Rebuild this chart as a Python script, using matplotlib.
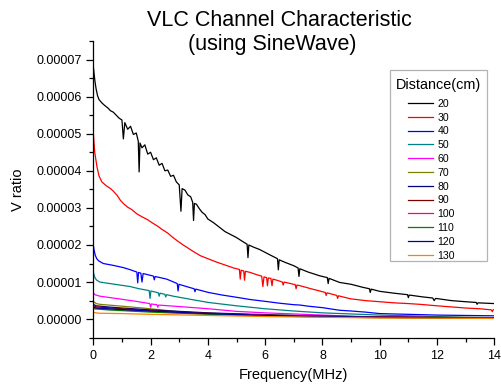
import matplotlib
matplotlib.use("Agg")
import matplotlib.pyplot as plt
from matplotlib.ticker import MultipleLocator, FormatStrFormatter
from matplotlib.offsetbox import HPacker, DrawingArea

plt.rcParams['font.family'] = ['Liberation Sans', 'DejaVu Sans']

# ---- data (values in units of 1e-5 V ratio) ----
labels = ["20", "30", "40", "50", "60", "70", "80", "90", "100", "110", "120", "130"]
colors = ["#000000", "#ff0000", "#0000ff", "#008080", "#ff00ff", "#808000",
          "#000080", "#800000", "#ff0080", "#008000", "#0000a0", "#ff8000"]

d20_f = [0, 0.03, 0.06, 0.1, 0.15, 0.2, 0.3, 0.4, 0.5, 0.6, 0.7, 0.8, 0.9, 1.0, 1.05, 1.1, 1.2, 1.3,
         1.4, 1.5, 1.57, 1.6, 1.63, 1.7, 1.8, 1.9, 2.0, 2.1, 2.2, 2.3, 2.4, 2.5, 2.6, 2.7, 2.8, 2.9,
         3.0, 3.06, 3.1, 3.2, 3.3, 3.4, 3.47, 3.5, 3.53, 3.6, 3.7, 3.8, 3.9, 4.0, 4.2, 4.4, 4.6, 4.8,
         5.0, 5.2, 5.37, 5.4, 5.43, 5.6, 5.8, 6.0, 6.2, 6.43, 6.46, 6.49, 6.7, 7.0, 7.15, 7.18, 7.21,
         7.5, 7.9, 8.17, 8.2, 8.23, 8.6, 9.0, 9.4, 9.64, 9.67, 9.7, 10.0, 10.5, 10.97, 11.0, 11.03,
         11.5, 11.85, 11.9, 11.95, 12.5, 13.0, 13.37, 13.4, 13.43, 14.0]
d20_v = [6.82, 6.6, 6.4, 6.2, 6.02, 5.92, 5.83, 5.76, 5.7, 5.62, 5.58, 5.5, 5.42, 5.37, 4.86, 5.3, 5.12, 5.2,
         4.98, 5.02, 4.8, 3.97, 4.75, 4.62, 4.7, 4.45, 4.5, 4.3, 4.35, 4.15, 4.2, 4.0, 4.02, 3.85, 3.88, 3.7,
         3.62, 2.91, 3.52, 3.48, 3.35, 3.3, 3.15, 2.66, 3.12, 3.1, 2.98, 2.88, 2.82, 2.7, 2.6, 2.48, 2.36, 2.28,
         2.2, 2.1, 2.02, 1.66, 2.0, 1.94, 1.88, 1.8, 1.72, 1.63, 1.33, 1.6, 1.53, 1.44, 1.38, 1.15, 1.36,
         1.27, 1.17, 1.12, 0.96, 1.1, 0.99, 0.94, 0.86, 0.82, 0.72, 0.81, 0.75, 0.7, 0.66, 0.58, 0.65,
         0.6, 0.57, 0.5, 0.56, 0.5, 0.47, 0.45, 0.4, 0.44, 0.42]

d30_f = [0, 0.02, 0.05, 0.09, 0.13, 0.2, 0.3, 0.45, 0.6, 0.7, 0.83, 0.95, 1.06, 1.2, 1.35, 1.52, 1.7, 1.9,
         2.05, 2.22, 2.4, 2.6, 2.75, 2.92, 3.1, 3.3, 3.5, 3.74, 4.0, 4.3, 4.6, 4.9, 5.1, 5.13, 5.16, 5.25,
         5.28, 5.31, 5.48, 5.7, 5.88, 5.92, 5.96, 6.05, 6.08, 6.11, 6.2, 6.24, 6.27, 6.45, 6.6, 6.63, 6.66,
         7.05, 7.08, 7.11, 7.23, 7.6, 8.1, 8.13, 8.16, 8.5, 8.53, 8.56, 8.97, 9.5, 10.0, 10.5, 11.0, 11.4,
         12.0, 12.5, 13.0, 13.5, 13.9, 13.93, 13.96, 14.0]
d30_v = [5.05, 4.8, 4.5, 4.3, 4.1, 3.86, 3.7, 3.6, 3.52, 3.45, 3.34, 3.2, 3.11, 3.02, 2.95, 2.84, 2.76, 2.68,
         2.6, 2.52, 2.42, 2.32, 2.22, 2.12, 2.02, 1.92, 1.82, 1.71, 1.63, 1.54, 1.46, 1.38, 1.34, 1.08, 1.32, 1.3,
         1.05, 1.29, 1.26, 1.2, 1.16, 0.88, 1.14, 1.12, 0.9, 1.11, 1.1, 0.9, 1.08, 1.04, 1.0, 0.92, 1.0,
         0.93, 0.82, 0.92, 0.9, 0.82, 0.72, 0.64, 0.71, 0.64, 0.56, 0.63, 0.55, 0.5, 0.47, 0.44, 0.42, 0.4,
         0.36, 0.33, 0.3, 0.28, 0.25, 0.2, 0.25, 0.26]

d40_f = [0, 0.03, 0.07, 0.12, 0.19, 0.35, 0.7, 1.05, 1.3, 1.52, 1.55, 1.58, 1.66, 1.7, 1.74, 2.0, 2.1, 2.13,
         2.16, 2.56, 2.93, 2.96, 2.99, 3.38, 3.52, 3.55, 3.58, 4.02, 4.5, 5.0, 5.47, 6.0, 6.5, 7.0, 7.22, 7.5,
         8.0, 8.6, 9.0, 9.5, 10.0, 11.0, 12.0, 13.0, 14.0]
d40_v = [2.0, 1.85, 1.72, 1.63, 1.57, 1.5, 1.45, 1.39, 1.33, 1.27, 0.98, 1.26, 1.24, 1.0, 1.23, 1.18, 1.16, 1.06,
         1.15, 1.08, 0.96, 0.76, 0.94, 0.85, 0.82, 0.74, 0.81, 0.72, 0.65, 0.59, 0.53, 0.48, 0.43, 0.39, 0.38, 0.35,
         0.31, 0.24, 0.22, 0.19, 0.15, 0.13, 0.11, 0.1, 0.09]

d50_f = [0, 0.03, 0.07, 0.12, 0.23, 0.58, 1.28, 1.6, 1.95, 1.98, 2.01, 2.27, 2.3, 2.33, 2.5, 2.53, 2.56,
         2.79, 3.5, 4.02, 5.0, 6.0, 6.5, 7.0, 8.0, 9.0, 10.0, 11.0, 12.0, 13.0, 14.0]
d50_v = [1.28, 1.18, 1.1, 1.05, 1.0, 0.96, 0.88, 0.82, 0.77, 0.56, 0.76, 0.71, 0.62, 0.7, 0.67, 0.6, 0.66,
         0.62, 0.52, 0.45, 0.36, 0.28, 0.25, 0.22, 0.17, 0.14, 0.11, 0.09, 0.07, 0.05, 0.04]

d60_f = [0, 0.05, 0.23, 1.05, 1.5, 1.97, 2.0, 2.03, 2.1, 2.22, 2.25, 2.28, 3.0, 4.02, 5.0, 6.0, 7.0, 8.0,
         9.0, 10.0, 11.0, 12.0, 13.0, 14.0]
d60_v = [0.72, 0.66, 0.62, 0.53, 0.48, 0.42, 0.32, 0.41, 0.4, 0.39, 0.32, 0.38, 0.34, 0.28, 0.21, 0.17, 0.14, 0.11,
         0.08, 0.06, 0.05, 0.04, 0.03, 0.03]

d70_f = [0, 0.1, 0.23, 1.0, 1.86, 3.0, 4.2, 5.0, 6.0, 8.0, 10.0, 12.0, 14.0]
d70_v = [0.48, 0.42, 0.4, 0.35, 0.29, 0.2, 0.14, 0.12, 0.1, 0.07, 0.05, 0.04, 0.03]

d80_f = [0, 0.1, 0.5, 1, 2, 3, 4, 6, 8, 10, 12, 14]
d80_v = [0.40, 0.36, 0.33, 0.30, 0.25, 0.21, 0.17, 0.12, 0.08, 0.06, 0.04, 0.03]

d90_f = [0, 0.1, 0.5, 1, 2, 3, 4, 6, 8, 10, 12, 14]
d90_v = [0.36, 0.33, 0.31, 0.28, 0.23, 0.19, 0.16, 0.11, 0.08, 0.06, 0.05, 0.04]

d100_f = [0, 0.5, 1, 2, 4, 6, 8, 10, 14]
d100_v = [0.30, 0.27, 0.25, 0.21, 0.14, 0.10, 0.07, 0.05, 0.03]

d110_f = [0, 0.5, 1, 2, 4, 6, 8, 10, 14]
d110_v = [0.28, 0.25, 0.23, 0.19, 0.13, 0.09, 0.06, 0.04, 0.02]

d120_f = [0, 0.1, 1, 2, 4, 6, 8, 10, 14]
d120_v = [0.33, 0.30, 0.26, 0.22, 0.15, 0.10, 0.07, 0.05, 0.03]

d130_f = [0, 0.2, 1, 2, 4, 6, 8, 10, 14]
d130_v = [0.18, 0.16, 0.15, 0.13, 0.10, 0.07, 0.05, 0.03, 0.02]

series = [(d20_f, d20_v), (d30_f, d30_v), (d40_f, d40_v), (d50_f, d50_v), (d60_f, d60_v),
          (d70_f, d70_v), (d80_f, d80_v), (d90_f, d90_v), (d100_f, d100_v), (d110_f, d110_v),
          (d120_f, d120_v), (d130_f, d130_v)]

# ---- figure ----
fig = plt.figure(figsize=(5.01, 3.85), dpi=100)
ax = fig.add_axes([93.3 / 501, 1 - 337.7 / 385, (494.3 - 93.3) / 501, (337.7 - 41) / 385])

for (f, v), lab, c in zip(series, labels, colors):
    ax.plot(f, [x * 1e-5 for x in v], color=c, lw=0.9, label=lab)

ax.set_xlim(0, 14)
ax.set_ylim(-0.5e-5, 7.5e-5)
ax.xaxis.set_major_locator(MultipleLocator(2))
ax.xaxis.set_minor_locator(MultipleLocator(1))
ax.yaxis.set_major_locator(MultipleLocator(1e-5))
ax.yaxis.set_minor_locator(MultipleLocator(0.5e-5))
ax.yaxis.set_major_formatter(FormatStrFormatter('%.5f'))
ax.tick_params(which='major', direction='out', length=5, width=0.9, labelsize=9, pad=3.5)
ax.tick_params(which='minor', direction='out', length=3, width=0.9)

for s in ['top', 'right']:
    ax.spines[s].set_visible(False)
for s in ['left', 'bottom']:
    ax.spines[s].set_linewidth(0.9)

ax.set_xlabel("Frequency(MHz)", fontsize=10.5, labelpad=5)
ax.set_ylabel("V ratio", fontsize=10.5, labelpad=8)

fig.text(279 / 501, 1 - 26 / 385, "VLC Channel Characteristic", fontsize=15.5,
         ha='center', va='baseline')
fig.text(272.5 / 501, 1 - 50 / 385, "(using SineWave)", fontsize=15.5,
         ha='center', va='baseline')

leg = ax.legend(title="Distance(cm)", loc='upper right',
                bbox_to_anchor=(486.7 / 501, 1 - 70 / 385), bbox_transform=fig.transFigure,
                borderaxespad=0, fontsize=7.6, title_fontsize=10.4, frameon=True, fancybox=False,
                handlelength=2.3, handletextpad=0.45, labelspacing=0.36, borderpad=0.0)
leg.get_frame().set_edgecolor('#a0a0a0')
leg.get_frame().set_linewidth(0.9)

# custom padding inside the legend box (points)
title_row = HPacker(pad=0, sep=0, align="center",
                    children=[DrawingArea(4.0, 0.1), leg._legend_title_box, DrawingArea(4.0, 0.1)])
entries_row = HPacker(pad=0, sep=0, align="top",
                      children=[DrawingArea(13.0, 0.1), leg._legend_handle_box])
box = leg._legend_box
box._children = [DrawingArea(0.1, 5.6), title_row, DrawingArea(0.1, 5.0), entries_row,
                 DrawingArea(0.1, 0.6)]
box.sep = 0
box.pad = 0
box.align = "left"
for ch in [title_row, entries_row] + list(box._children):
    ch.set_figure(fig)

fig.savefig("out.png", dpi=100)
